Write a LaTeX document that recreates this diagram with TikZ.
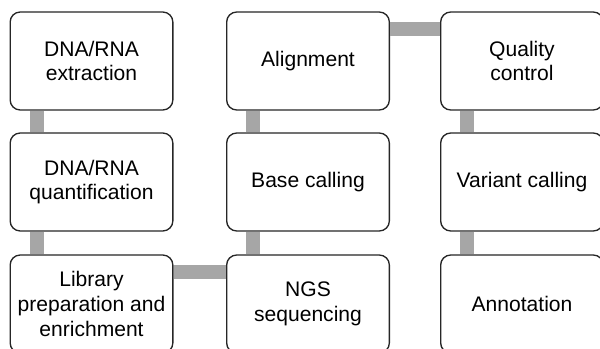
\documentclass[tikz,border=0pt]{standalone}
\usepackage{fontspec}
\setmainfont{Liberation Sans}
\begin{document}
\begin{tikzpicture}[x=0.75pt,y=-0.75pt,
  stepbox/.style={draw=black!85, line width=1pt, rounded corners=7.5pt, fill=white,
    minimum width=122pt, minimum height=73.5pt, align=center, inner sep=0pt,
    font=\fontsize{15.8}{18.6}\selectfont},
  conn/.style={draw=black!35, line width=10.5pt}]
\useasboundingbox (0,0) rectangle (600,349);
\clip (0,0) rectangle (600,349);
\node[stepbox] (a) at (91.5,61) {DNA/RNA\\extraction};
\node[stepbox] (b) at (91.5,182) {DNA/RNA\\quantification};
\node[stepbox] (c) at (91.5,304) {Library\\preparation and\\enrichment};
\node[stepbox] (d) at (308,304) {NGS\\sequencing};
\node[stepbox] (e) at (308,182) {Base calling};
\node[stepbox] (f) at (308,61) {Alignment};
\node[stepbox] (g) at (522,61) {Quality\\control};
\node[stepbox] (h) at (522,182) {Variant calling};
\node[stepbox] (i) at (522,304) {Annotation};
\draw[conn] ([xshift=20.5pt]a.south west) -- ([xshift=20.5pt]b.north west);
\draw[conn] ([xshift=20.5pt]b.south west) -- ([xshift=20.5pt]c.north west);
\draw[conn] ([yshift=-13pt]c.north east) -- ([yshift=-13pt]d.north west);
\draw[conn] ([xshift=20.5pt]d.north west) -- ([xshift=20.5pt]e.south west);
\draw[conn] ([xshift=20.5pt]e.north west) -- ([xshift=20.5pt]f.south west);
\draw[conn] ([yshift=-13pt]f.north east) -- ([yshift=-13pt]g.north west);
\draw[conn] ([xshift=20.5pt]g.south west) -- ([xshift=20.5pt]h.north west);
\draw[conn] ([xshift=20.5pt]h.south west) -- ([xshift=20.5pt]i.north west);
\end{tikzpicture}
\end{document}
